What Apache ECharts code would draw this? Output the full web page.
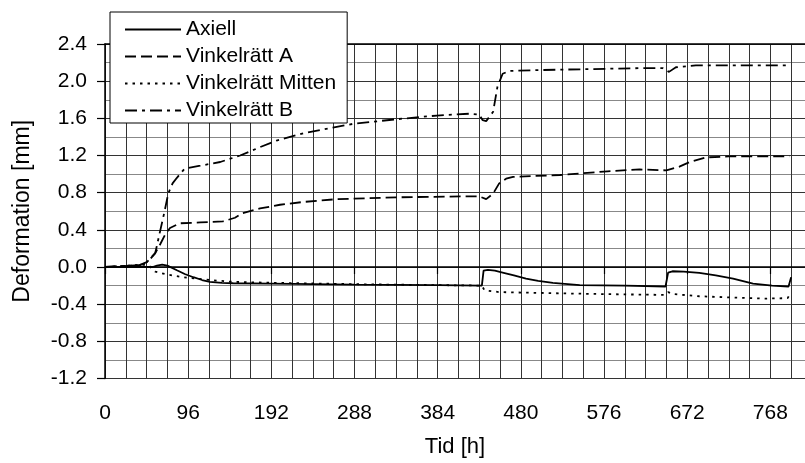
<!DOCTYPE html>
<html>
<head>
<meta charset="utf-8">
<script src="https://cdn.jsdelivr.net/npm/echarts@6/dist/echarts.min.js"></script>
<style>
  html, body { margin: 0; padding: 0; background: #fff; }
  #chart { width: 805px; height: 463px; }
</style>
</head>
<body>
<div id="chart"></div>
<script>
// serienamn
const seriesNames = ['Axiell', 'Vinkelrätt A', 'Vinkelrätt Mitten', 'Vinkelrätt B']

// [tid h, deformation mm]
const axiell = [
  [0, 0], [20, 0], [40, 0], [55, 0], [60, 0.015], [66, 0.026], [72, 0.015], [83, -0.035],
  [92, -0.075], [102, -0.11], [112, -0.14], [121, -0.16], [135, -0.17], [148, -0.175],
  [192, -0.18], [288, -0.19], [384, -0.195], [435, -0.2], [436, -0.2], [437, -0.04],
  [442, -0.03], [450, -0.04], [459, -0.06], [472, -0.09], [486, -0.125], [500, -0.15],
  [517, -0.17], [548, -0.195], [600, -0.2], [647, -0.21], [648, -0.21], [650, -0.06],
  [655, -0.046], [668, -0.05], [686, -0.064], [705, -0.09], [725, -0.125], [748, -0.18],
  [770, -0.2], [789, -0.21], [792, -0.11]
]
const vinkelA = [
  [0, 0], [20, 0.01], [40, 0.02], [50, 0.06], [58, 0.15], [64, 0.25], [69, 0.34], [75, 0.42],
  [86, 0.47], [110, 0.48], [136, 0.49], [150, 0.53], [159, 0.58], [179, 0.63], [202, 0.67],
  [229, 0.7], [267, 0.73], [336, 0.75], [413, 0.76], [432, 0.76], [440, 0.73], [448, 0.79],
  [455, 0.9], [463, 0.95], [471, 0.97], [525, 0.99], [580, 1.03], [617, 1.05], [648, 1.04],
  [663, 1.08], [675, 1.13], [694, 1.18], [720, 1.19], [790, 1.19]
]
const vinkelMitten = [
  [0, 0], [20, 0.01], [40, 0.025], [50, 0.02], [58, -0.05], [71, -0.08], [90, -0.11],
  [121, -0.14], [148, -0.16], [192, -0.17], [288, -0.185], [384, -0.195], [435, -0.2],
  [438, -0.25], [455, -0.27], [533, -0.285], [600, -0.295], [646, -0.3], [650, -0.27],
  [655, -0.29], [686, -0.315], [730, -0.33], [763, -0.34], [788, -0.335], [792, -0.27]
]
const vinkelB = [
  [0, 0], [20, 0.01], [40, 0.02], [48, 0.05], [54, 0.11], [58, 0.15], [63, 0.36], [69, 0.61],
  [73, 0.79], [78, 0.9], [83, 0.96], [92, 1.06], [110, 1.09], [133, 1.13], [156, 1.2],
  [179, 1.29], [198, 1.36], [229, 1.44], [263, 1.5], [286, 1.54], [336, 1.59], [383, 1.63],
  [421, 1.65], [432, 1.64], [436, 1.58], [440, 1.57], [448, 1.67], [453, 1.94], [459, 2.08],
  [467, 2.11], [505, 2.12], [560, 2.13], [617, 2.14], [644, 2.14], [651, 2.1], [659, 2.15],
  [682, 2.17], [790, 2.17]
]

const font = 'Liberation Sans, Arial, sans-serif'
const chart = echarts.init(document.getElementById('chart'))

function line(name, data, type) {
  return {
    name: name,
    type: 'line',
    data: data,
    symbol: 'none',
    lineStyle: { color: '#000', width: 1.8, type: type },
    itemStyle: { color: '#000' },
    z: 5
  }
}

chart.setOption({
  animation: false,
  textStyle: { fontFamily: font },
  grid: { left: 105, top: 44, right: 0, bottom: 84.5 },
  legend: {
    orient: 'vertical',
    left: 110,
    top: 12,
    data: seriesNames,
    backgroundColor: '#fff',
    borderColor: '#000',
    borderWidth: 1,
    borderRadius: 0,
    padding: [7, 11, 2, 14],
    itemWidth: 56,
    itemHeight: 14,
    itemGap: 6,
    // bara linjen, ingen symbol
    itemStyle: { color: 'rgba(0,0,0,0)', borderColor: 'rgba(0,0,0,0)', borderWidth: 0 },
    textStyle: { fontSize: 21, color: '#000', fontFamily: font },
    z: 10
  },
  xAxis: [
    {
      type: 'value',
      min: 0,
      max: 808,
      interval: 96,
      name: 'Tid [h]',
      nameLocation: 'middle',
      nameGap: 57,
      nameTextStyle: { fontSize: 22, color: '#000' },
      axisLine: { lineStyle: { color: '#000', width: 1.5 } },
      axisTick: { show: true, length: 7, lineStyle: { color: '#000', width: 1.2 } },
      axisLabel: { fontSize: 21, color: '#000', margin: 24, showMaxLabel: false },
      splitLine: { show: false }
    },
    {
      type: 'value',
      position: 'top',
      min: 0,
      max: 808,
      interval: 24,
      axisLine: { show: true, lineStyle: { color: '#000', width: 1.5 } },
      axisTick: { show: false },
      axisLabel: { show: false },
      splitLine: { show: true, lineStyle: { color: '#333', width: 1 } }
    }
  ],
  yAxis: {
    type: 'value',
    min: -1.2,
    max: 2.4,
    interval: 0.4,
    name: 'Deformation [mm]',
    nameLocation: 'middle',
    nameGap: 71,
    nameTextStyle: { fontSize: 23, color: '#000' },
    axisLine: { show: true, lineStyle: { color: '#000', width: 1.5 } },
    axisTick: { show: true, length: 8, lineStyle: { color: '#000', width: 1.2 } },
    axisLabel: {
      fontSize: 21,
      color: '#000',
      margin: 18,
      formatter: v => v.toFixed(1)
    },
    splitLine: { show: true, lineStyle: { color: '#333', width: 1 } },
    minorTick: { show: false, splitNumber: 2 },
    minorSplitLine: { show: true, lineStyle: { color: '#888', width: 1 } }
  },
  series: [
    line(seriesNames[0], axiell, 'solid'),
    line(seriesNames[1], vinkelA, [11, 5]),
    line(seriesNames[2], vinkelMitten, [2.5, 5]),
    line(seriesNames[3], vinkelB, [12, 5, 3, 5])
  ]
})
</script>
</body>
</html>
